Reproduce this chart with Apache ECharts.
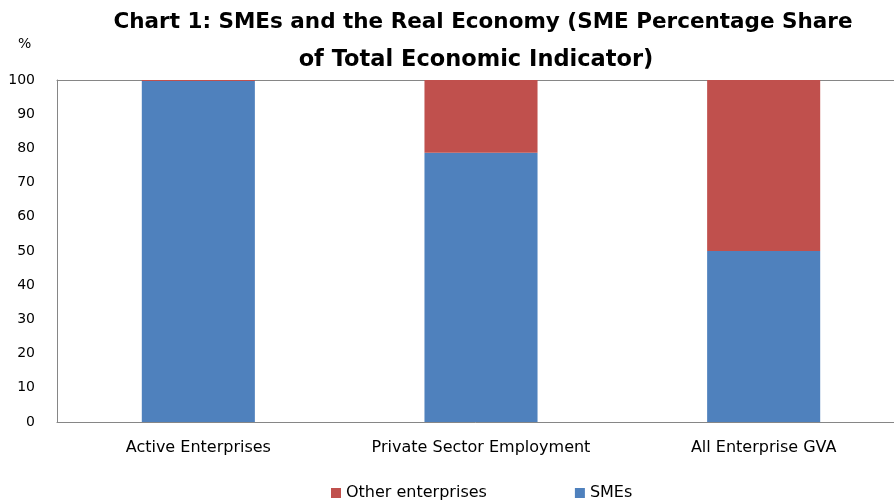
<!DOCTYPE html>
<html><head><meta charset="utf-8">
<script src="https://cdn.jsdelivr.net/npm/echarts@6/dist/echarts.min.js"></script>
<style>html,body{margin:0;padding:0;background:#fff}#c{width:894px;height:502px}</style>
</head><body><div id="c"></div>
<script>
const categories = ['Active Enterprises', 'Private Sector Employment', 'All Enterprise GVA'];
const smes = [99.7, 78.7, 50];
const otherEnterprises = [0.3, 21.3, 50];
const yTicks = { min: 0, max: 100, interval: 10 };

const chart = echarts.init(document.getElementById('c'), null, { renderer: 'canvas' });
const font = 'DejaVu Sans';
chart.setOption({
  animation: false,
  backgroundColor: '#ffffff',
  graphic: [
    { type: 'text', x: 483, y: 22, style: { text: 'Chart 1: SMEs and the Real Economy (SME Percentage Share', align: 'center', verticalAlign: 'middle', fontFamily: font, fontWeight: 'bold', fontSize: 21.5, fill: '#000' } },
    { type: 'text', x: 476, y: 60, style: { text: 'of Total Economic Indicator)', align: 'center', verticalAlign: 'middle', fontFamily: font, fontWeight: 'bold', fontSize: 22.5, fill: '#000' } },
    { type: 'text', left: 18, top: 37, style: { text: '%', fontFamily: font, fontSize: 14, fill: '#000' } }
  ],
  legend: {
    top: 485, left: 331, padding: 0,
    itemWidth: 10, itemHeight: 10, itemGap: 88,
    icon: 'rect',
    data: ['Other enterprises', 'SMEs'],
    textStyle: { fontFamily: font, fontSize: 16, color: '#000' }
  },
  grid: { left: 57, top: 80, width: 848, height: 342, outerBoundsMode: 'none' },
  xAxis: [{
    type: 'category', data: categories,
    axisLine: { lineStyle: { color: '#868686' } },
    axisTick: { show: false },
    axisLabel: { interval: 0, hideOverlap: false, fontFamily: font, fontSize: 16, color: '#000', margin: 18 }
  }, {
    type: 'category', position: 'top', data: categories,
    axisLine: { show: true, lineStyle: { color: '#868686' } },
    axisTick: { show: false },
    axisLabel: { show: false }
  }],
  yAxis: {
    type: 'value', min: yTicks.min, max: yTicks.max, interval: yTicks.interval,
    axisLine: { show: true, lineStyle: { color: '#868686' } },
    axisTick: { show: false },
    splitLine: { show: false },
    axisLabel: { fontFamily: font, fontSize: 14, color: '#000', margin: 22 }
  },
  series: [
    { name: 'SMEs', type: 'bar', stack: 's', data: smes, barWidth: '40%', itemStyle: { color: '#4F81BD' } },
    { name: 'Other enterprises', type: 'bar', stack: 's', data: otherEnterprises, barWidth: '40%', itemStyle: { color: '#C0504D' } }
  ]
});
</script></body></html>
